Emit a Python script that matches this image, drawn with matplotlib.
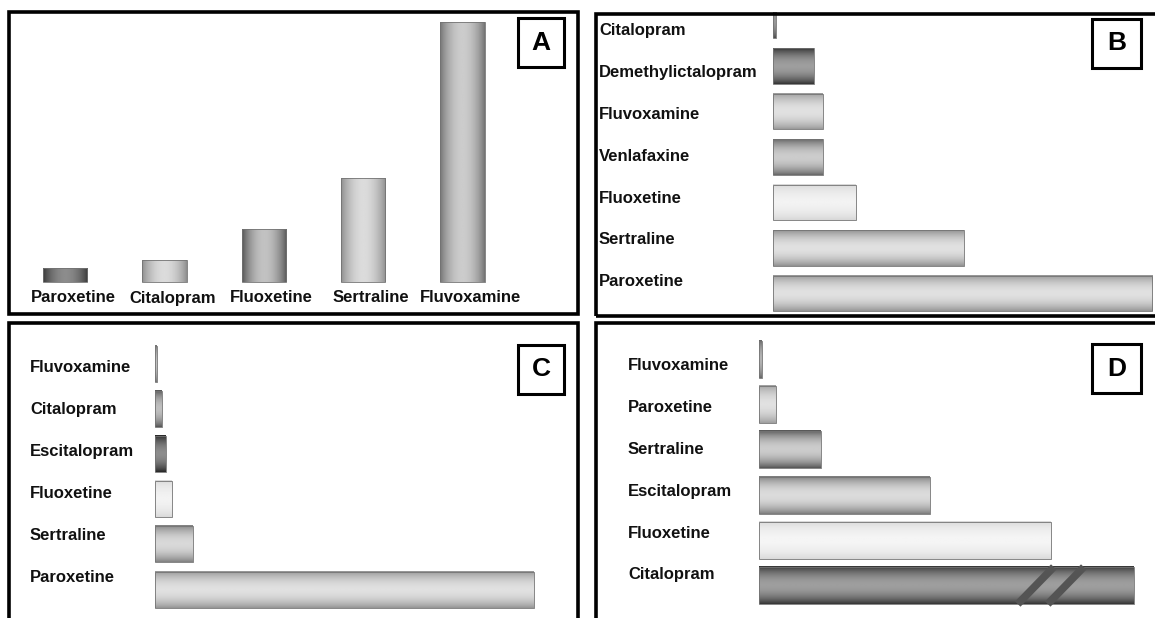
import numpy as np
import matplotlib.pyplot as plt
from matplotlib.patches import Rectangle

W, H = 1155, 618

# panel A (vertical bars)
a_drugs = ['Paroxetine', 'Citalopram', 'Fluoxetine', 'Sertraline', 'Fluvoxamine']
a_values = [14, 22, 53, 104, 260]

# panel B
b_drugs = ['Citalopram', 'Demethylictalopram', 'Fluvoxamine', 'Venlafaxine',
           'Fluoxetine', 'Sertraline', 'Paroxetine']
b_values = [3, 41, 50, 50, 83, 191, 379]

# panel C
c_drugs = ['Fluvoxamine', 'Citalopram', 'Escitalopram', 'Fluoxetine', 'Sertraline', 'Paroxetine']
c_values = [2, 7, 11, 17, 38, 379]

# panel D
d_drugs = ['Fluvoxamine', 'Paroxetine', 'Sertraline', 'Escitalopram', 'Fluoxetine', 'Citalopram']
d_values = [3, 17, 62, 171, 292, 375]

# grey shading per bar (edge, middle)
a_shade = [(0.22, 0.55), (0.55, 0.86), (0.33, 0.76), (0.55, 0.86), (0.45, 0.8)]
b_shade = [(0.3, 0.6), (0.2, 0.62), (0.6, 0.88), (0.4, 0.8), (0.84, 0.95), (0.56, 0.88), (0.58, 0.88)]
c_shade = [(0.45, 0.75), (0.33, 0.75), (0.15, 0.55), (0.85, 0.95), (0.5, 0.85), (0.58, 0.88)]
d_shade = [(0.4, 0.7), (0.62, 0.88), (0.33, 0.8), (0.48, 0.86), (0.85, 0.96), (0.2, 0.62)]

plt.rcParams['font.family'] = ['Liberation Sans', 'DejaVu Sans']

fig = plt.figure(figsize=(W / 100, H / 100), dpi=100)


def px_rect(x0, y0, x1, y1):
    return [x0 / W, 1 - y1 / H, (x1 - x0) / W, (y1 - y0) / H]


def gradient(edge, mid, n=80):
    t = np.linspace(-1, 1, n)
    v = edge + (mid - edge) * np.cos(t * np.pi / 2) ** 0.8
    return v


def shade_bars(ax, bars, shades, vertical):
    for b, (e, m) in zip(bars, shades):
        x, y, w, h = b.get_x(), b.get_y(), b.get_width(), b.get_height()
        g = gradient(e, m)
        img = g[np.newaxis, :] if vertical else g[:, np.newaxis]
        im = ax.imshow(img, cmap='gray', vmin=0, vmax=1, aspect='auto',
                       extent=(x, x + w, y, y + h), interpolation='bilinear', zorder=2)
        im.set_clip_path(b)
        im.set_clip_box(ax.bbox)
        b.set_facecolor('none')
        b.set_edgecolor((0.45, 0.45, 0.45))
        b.set_linewidth(0.6)
        b.set_zorder(3)


def panel_frame(x0, y0, x1, y1):
    fig.patches.append(Rectangle((x0 / W, 1 - y1 / H), (x1 - x0) / W, (y1 - y0) / H,
                                 transform=fig.transFigure, fill=False,
                                 edgecolor='black', linewidth=2.6, zorder=10))


def letter_box(x0, y0, x1, y1, letter):
    fig.patches.append(Rectangle((x0 / W, 1 - y1 / H), (x1 - x0) / W, (y1 - y0) / H,
                                 transform=fig.transFigure, fill=True, facecolor='white',
                                 edgecolor='black', linewidth=2.2, zorder=10))
    fig.text((x0 + x1) / 2 / W, 1 - (y0 + y1) / 2 / H, letter, ha='center', va='center',
             fontsize=19, fontweight='bold', zorder=11)


label_kw = dict(fontsize=12, fontweight='bold', color='#111111')

# ---- panel A
axA = fig.add_axes(px_rect(9, 12, 578, 314))
xa = np.arange(len(a_drugs))
bars = axA.bar(xa, a_values, width=0.445)
shade_bars(axA, bars, a_shade, vertical=True)
for i, name in enumerate(a_drugs):
    axA.text(i + 0.08, -16, name, ha='center', va='center', **label_kw)
axA.set_xlim((9 - 65) / 99.4, (578 - 65) / 99.4)
axA.set_ylim(282 - 314, 282 - 12)
axA.axis('off')


def hpanel(rect, bar_x0, c0, step, lab_x, lab_y0, lab_step, names, vals, shades, bar_h):
    x0, y0, x1, y1 = rect
    ax = fig.add_axes(px_rect(*rect))
    yy = np.arange(len(names))
    bars = ax.barh(yy, vals, height=bar_h)
    shade_bars(ax, bars, shades, vertical=False)
    for i, name in enumerate(names):
        ax.text(lab_x - bar_x0, (lab_y0 - c0) / step + i * lab_step / step, name,
                ha='left', va='center', **label_kw)
    ax.set_xlim(x0 - bar_x0, x1 - bar_x0)
    ax.set_ylim((y1 - c0) / step, (y0 - c0) / step)
    ax.axis('off')
    return ax


axB = hpanel((597, 12, 1155, 316), 773, 20.5, 45.5, 599, 31, 41.8,
             b_drugs, b_values, b_shade, 0.79)
axC = hpanel((9, 323, 578, 618), 155, 363.6, 45.2, 30, 368, 41.8,
             c_drugs, c_values, c_shade, 0.8)
axD = hpanel((595, 323, 1155, 618), 759, 359.5, 45.2, 628, 366, 41.8,
             d_drugs, d_values, d_shade, 0.82)

# axis break on the longest bar of D
k = len(d_values) - 1
v = d_values[k]
for s in (0.69, 0.77):
    axD.plot([v * s, v * s + 36], [k + 0.41, k - 0.41], color=(0.33, 0.33, 0.33),
             linewidth=5.5, solid_capstyle='butt', zorder=4)

panel_frame(9, 12, 578, 314)
panel_frame(596, 14, 1170, 316)
panel_frame(9, 323, 578, 640)
panel_frame(596, 323, 1170, 640)

letter_box(518, 18, 564, 67, 'A')
letter_box(1092, 19, 1141, 68, 'B')
letter_box(518, 345, 564, 394, 'C')
letter_box(1092, 344, 1141, 393, 'D')

fig.savefig('out.png', dpi=100)
